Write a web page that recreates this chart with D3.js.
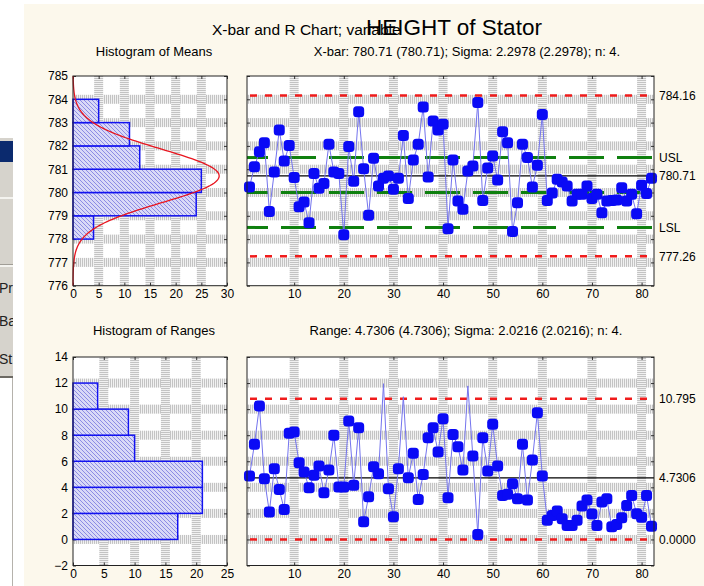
<!DOCTYPE html>
<html>
<head>
<meta charset="utf-8">
<script src="https://cdn.jsdelivr.net/npm/d3@7"></script>
<style>
    body { margin: 0; background: #fff; }
    svg { display: block; font-family: "Liberation Sans", Arial, sans-serif; }
</style>
</head>
<body>
<svg id="chart" width="704" height="586"></svg>
<script>
// sample means (n = 4), samples 1..82
var means = [
    780.24, 781.11, 781.75, 782.14, 779.18, 780.88, 782.68, 781.35, 782.02, 780.64,
    779.39, 779.59, 778.70, 780.82, 780.18, 780.39, 782.07, 780.88, 780.82, 778.19,
    781.97, 780.48, 783.47, 781.02, 779.02, 781.47, 780.28, 780.61, 780.71, 780.14,
    780.61, 782.45, 779.74, 781.39, 782.07, 783.67, 780.67, 783.07, 782.68, 782.93,
    778.44, 781.39, 779.64, 779.28, 780.92, 781.14, 783.86, 779.66, 781.05, 781.57,
    780.54, 782.61, 782.14, 778.33, 779.56, 782.07, 781.50, 780.24, 781.17, 783.35,
    779.66, 779.98, 780.57, 780.45, 780.28, 779.64, 779.92, 779.92, 780.28, 779.74,
    779.92, 779.13, 779.64, 779.66, 779.68, 780.20, 779.64, 779.92, 779.09, 780.31,
    779.96, 780.61
];

// sample ranges
var ranges = [
    4.86, 7.30, 10.24, 4.66, 2.10, 5.43, 3.84, 2.30, 8.14, 8.24,
    5.89, 5.17, 3.97, 4.92, 5.63, 3.58, 5.32, 7.99, 4.02, 4.02,
    9.09, 4.15, 8.58, 1.36, 3.28, 5.58, 5.04, 11.95, 3.89, 1.74,
    5.43, 10.95, 4.74, 6.61, 3.07, 4.99, 7.81, 8.58, 6.71, 9.27,
    3.20, 8.06, 7.12, 5.32, 11.78, 6.40, 0.38, 7.81, 5.25, 8.83,
    5.63, 3.38, 3.46, 4.27, 3.12, 7.30, 3.02, 6.09, 9.73, 4.86,
    1.48, 1.84, 2.18, 1.59, 1.07, 1.07, 1.48, 2.56, 3.02, 1.96,
    1.07, 2.87, 3.12, 0.97, 1.15, 1.66, 2.61, 3.38, 1.97, 1.71,
    3.38, 1.02
];

// histogram bins (lower edge) and counts
var meanBinStart = [778, 779, 780, 781, 782, 783];
var meanBinCount = [4, 24, 25, 13, 11, 5];
var rangeBinStart = [0, 2, 4, 6, 8, 10];
var rangeBinCount = [17, 21, 21, 10, 9, 4];

// control limits & specs
var xbarLimits = [784.16, 780.71, 777.26];
var specLimits = [781.5, 780.0, 778.5];
var xbarLabelVals = [784.16, 781.5, 780.71, 778.5, 777.26];
var xbarLabels = ['784.16', 'USL', '780.71', 'LSL', '777.26'];
var rLimits = [10.795, 4.7306, 0.0];
var rLabels = ['10.795', '4.7306', '0.0000'];
var xbarSigma = 2.2978;
var sampleSize = 4;

// tick values
var meanTicks = [776, 777, 778, 779, 780, 781, 782, 783, 784, 785];
var rangeTicks = [-2, 0, 2, 4, 6, 8, 10, 12, 14];
var histMeanXTicks = [0, 5, 10, 15, 20, 25, 30];
var histRangeXTicks = [0, 5, 10, 15, 20, 25];
var sampleTicks = [10, 20, 30, 40, 50, 60, 70, 80];

var svg = d3.select('#chart');
var defs = svg.append('defs');

// grid band patterns
var hp = defs.append('pattern').attr('id', 'hband').attr('patternUnits', 'userSpaceOnUse')
    .attr('width', 2).attr('height', 2);
hp.append('rect').attr('width', 2).attr('height', 2).attr('fill', '#f1f1f1');
hp.append('rect').attr('width', 1).attr('height', 2).attr('fill', '#c3c3c3');

var vp = defs.append('pattern').attr('id', 'vband').attr('patternUnits', 'userSpaceOnUse')
    .attr('width', 2).attr('height', 2);
vp.append('rect').attr('width', 2).attr('height', 2).attr('fill', '#f1f1f1');
vp.append('rect').attr('width', 2).attr('height', 1).attr('fill', '#c3c3c3');

var hatch = defs.append('pattern').attr('id', 'hatch').attr('patternUnits', 'userSpaceOnUse')
    .attr('width', 4).attr('height', 4);
hatch.append('rect').attr('width', 4).attr('height', 4).attr('fill', '#d9d9f7');
hatch.append('path').attr('d', 'M0,0L4,4M-1,3L1,5M3,-1L5,1')
    .attr('stroke', '#8383e2').attr('stroke-width', 0.9);

defs.append('clipPath').attr('id', 'leftclip')
    .append('rect').attr('x', 0).attr('y', 0).attr('width', 13).attr('height', 586);

// window leftovers on the left edge
var side = svg.append('g').attr('clip-path', 'url(#leftclip)');
side.append('rect').attr('x', 0).attr('y', 138).attr('width', 13).attr('height', 240).attr('fill', '#d6d3cc');
side.append('rect').attr('x', 0).attr('y', 141).attr('width', 13).attr('height', 21).attr('fill', '#0b2a6e');
side.append('rect').attr('x', 0).attr('y', 197).attr('width', 13).attr('height', 2).attr('fill', '#f4f3ef');
side.append('rect').attr('x', 0).attr('y', 264).attr('width', 13).attr('height', 1).attr('fill', '#a09d96');
side.append('rect').attr('x', 0).attr('y', 265).attr('width', 13).attr('height', 2).attr('fill', '#f4f3ef');
side.append('rect').attr('x', 0).attr('y', 376).attr('width', 13).attr('height', 2).attr('fill', '#6d6a64');
side.selectAll('text.side').data([['Pri', 293], ['Ba', 326], ['St', 364]]).enter()
    .append('text').attr('x', -1).attr('y', function (d) { return d[1]; })
    .attr('font-size', 14).attr('fill', '#222').text(function (d) { return d[0]; });
svg.append('line').attr('x1', 12.5).attr('x2', 12.5).attr('y1', 378).attr('y2', 586)
    .attr('stroke', '#b5b2ac');

// cream background
svg.append('rect').attr('x', 24).attr('y', 4).attr('width', 680).attr('height', 582).attr('fill', '#fcf8ec');

// title (the two parts overlap in the original)
svg.append('text').attr('x', 212).attr('y', 35).attr('font-size', 15.5)
    .text('X-bar and R Chart; variable');
svg.append('text').attr('x', 366).attr('y', 35).attr('font-size', 22.5)
    .text('HEIGHT of Stator');

function subTitle(x, y, t) {
    svg.append('text').attr('x', x).attr('y', y).attr('text-anchor', 'middle')
        .attr('font-size', 13).text(t);
}
subTitle(154, 56, 'Histogram of Means');
subTitle(467, 56, 'X-bar: 780.71 (780.71); Sigma: 2.2978 (2.2978); n: 4.');
subTitle(154, 335, 'Histogram of Ranges');
subTitle(466, 335, 'Range: 4.7306 (4.7306); Sigma: 2.0216 (2.0216); n: 4.');

// draws white plot area, striped grid bands and inward ticks
function panel(x, y, xTicks, yTicks, opts) {
    var g = svg.append('g');
    var x0 = x.range()[0], x1 = x.range()[1];
    var y0 = y.range()[1], y1 = y.range()[0];
    g.append('rect').attr('x', x0).attr('y', y0).attr('width', x1 - x0).attr('height', y1 - y0)
        .attr('fill', '#fff');

    var inY = yTicks.filter(function (d) { return y(d) > y0 + 2 && y(d) < y1 - 2; });
    var inX = xTicks.filter(function (d) { return x(d) > x0 + 2 && x(d) < x1 - 2; });

    g.selectAll('rect.hb').data(inY).enter().append('rect')
        .attr('x', x0).attr('y', function (d) { return y(d) - 4.5; })
        .attr('width', x1 - x0).attr('height', 9).attr('fill', 'url(#hband)');
    g.selectAll('rect.vb').data(inX).enter().append('rect')
        .attr('x', function (d) { return x(d) - 4.5; }).attr('y', y0)
        .attr('width', 9).attr('height', y1 - y0).attr('fill', 'url(#vband)');

    var axB = d3.axisBottom(x).tickValues(xTicks).tickSize(-3).tickSizeOuter(0).tickPadding(4);
    if (!opts.xLabels) axB.tickFormat('');
    var axT = d3.axisTop(x).tickValues(xTicks).tickSize(-3).tickSizeOuter(0).tickFormat('');
    var axL = d3.axisLeft(y).tickValues(yTicks).tickSize(-3).tickSizeOuter(0).tickPadding(5);
    if (!opts.yLabels) axL.tickFormat('');
    var axR = d3.axisRight(y).tickValues(yTicks).tickSize(-3).tickSizeOuter(0).tickFormat('');

    var axes = [
        [axB, 'translate(0,' + y1 + ')'],
        [axT, 'translate(0,' + y0 + ')'],
        [axL, 'translate(' + x0 + ',0)'],
        [axR, 'translate(' + x1 + ',0)']
    ];
    axes.forEach(function (a) {
        var ag = svg.append('g').attr('class', 'axis').attr('transform', a[1]).call(a[0]);
        ag.select('.domain').remove();
        ag.selectAll('line').attr('stroke', '#333');
        ag.selectAll('text').attr('font-size', 12).attr('fill', '#000')
            .attr('font-family', '"Liberation Sans", Arial, sans-serif');
    });
    return g;
}

function border(x, y) {
    svg.append('rect')
        .attr('x', x.range()[0]).attr('y', y.range()[1])
        .attr('width', x.range()[1] - x.range()[0]).attr('height', y.range()[0] - y.range()[1])
        .attr('fill', 'none').attr('stroke', '#222').attr('stroke-width', 1);
}

// ---------- scales ----------
var yMean = d3.scaleLinear().domain([776, 785]).range([285.7, 76]);
var yRange = d3.scaleLinear().domain([-2, 14]).range([565.5, 357]);
var xHistMean = d3.scaleLinear().domain([0, 30]).range([73, 227]);
var xHistRange = d3.scaleLinear().domain([0, 25]).range([73, 227]);
var xSample = d3.scaleLinear().domain([0.5, 82.5]).range([247, 654]);

// ---------- histogram of means ----------
panel(xHistMean, yMean, histMeanXTicks, meanTicks, { xLabels: true, yLabels: true });
svg.append('g').selectAll('rect').data(meanBinStart).enter().append('rect')
    .attr('x', xHistMean(0))
    .attr('y', function (d) { return yMean(d + 1); })
    .attr('width', function (d, i) { return xHistMean(meanBinCount[i]) - xHistMean(0); })
    .attr('height', function (d) { return yMean(d) - yMean(d + 1); })
    .attr('fill', 'url(#hatch)').attr('stroke', '#1212f0').attr('stroke-width', 1.5);

var sdMean = xbarSigma / Math.sqrt(sampleSize);
var total = d3.sum(meanBinCount);
var curveY = d3.range(776, 785.001, 0.05);
svg.append('path')
    .datum(curveY)
    .attr('fill', 'none').attr('stroke', '#e8141e').attr('stroke-width', 1.3)
    .attr('d', d3.line()
        .x(function (v) {
            var z = (v - xbarLimits[1]) / sdMean;
            return xHistMean(total * Math.exp(-0.5 * z * z) / (sdMean * Math.sqrt(2 * Math.PI)));
        })
        .y(function (v) { return yMean(v); }));
border(xHistMean, yMean);

// ---------- X-bar chart ----------
panel(xSample, yMean, sampleTicks, meanTicks, { xLabels: true, yLabels: false });
var xg = svg.append('g');
xg.selectAll('line.lim').data([xbarLimits[0], xbarLimits[2]]).enter().append('line')
    .attr('x1', xSample.range()[0]).attr('x2', xSample.range()[1])
    .attr('y1', yMean).attr('y2', yMean)
    .attr('stroke', '#f01c1c').attr('stroke-width', 2.5)
    .attr('stroke-dasharray', '7,8').attr('stroke-dashoffset', 12);
xg.selectAll('line.spec').data(specLimits).enter().append('line')
    .attr('x1', xSample.range()[0]).attr('x2', xSample.range()[1])
    .attr('y1', yMean).attr('y2', yMean)
    .attr('stroke', '#0f800f').attr('stroke-width', 3)
    .attr('stroke-dasharray', '35,13').attr('stroke-dashoffset', 14);
xg.append('line')
    .attr('x1', xSample.range()[0]).attr('x2', xSample.range()[1])
    .attr('y1', yMean(xbarLimits[1])).attr('y2', yMean(xbarLimits[1]))
    .attr('stroke', '#000').attr('stroke-width', 1.2);
border(xSample, yMean);

xg.append('path').datum(means)
    .attr('fill', 'none').attr('stroke', '#7474ee').attr('stroke-width', 1)
    .attr('d', d3.line()
        .x(function (d, i) { return xSample(i + 1); })
        .y(function (d) { return yMean(d); }));
xg.selectAll('rect.pt').data(means).enter().append('rect')
    .attr('x', function (d, i) { return xSample(i + 1) - 5.5; })
    .attr('y', function (d) { return yMean(d) - 5.5; })
    .attr('width', 11).attr('height', 11).attr('rx', 3.5)
    .attr('fill', '#0a0af5');

svg.append('g').selectAll('text').data(xbarLabels).enter().append('text')
    .attr('x', 659).attr('y', function (d, i) { return yMean(xbarLabelVals[i]); })
    .attr('dy', '0.35em').attr('font-size', 12).text(function (d) { return d; });

// ---------- histogram of ranges ----------
panel(xHistRange, yRange, histRangeXTicks, rangeTicks, { xLabels: true, yLabels: true });
svg.append('g').selectAll('rect').data(rangeBinStart).enter().append('rect')
    .attr('x', xHistRange(0))
    .attr('y', function (d) { return yRange(d + 2); })
    .attr('width', function (d, i) { return xHistRange(rangeBinCount[i]) - xHistRange(0); })
    .attr('height', function (d) { return yRange(d) - yRange(d + 2); })
    .attr('fill', 'url(#hatch)').attr('stroke', '#1212f0').attr('stroke-width', 1.5);
border(xHistRange, yRange);

// ---------- R chart ----------
panel(xSample, yRange, sampleTicks, rangeTicks, { xLabels: true, yLabels: false });
var rg = svg.append('g');
rg.selectAll('line.lim').data([rLimits[0], rLimits[2]]).enter().append('line')
    .attr('x1', xSample.range()[0]).attr('x2', xSample.range()[1])
    .attr('y1', yRange).attr('y2', yRange)
    .attr('stroke', '#f01c1c').attr('stroke-width', 2.5)
    .attr('stroke-dasharray', '7,8').attr('stroke-dashoffset', 12);
rg.append('line')
    .attr('x1', xSample.range()[0]).attr('x2', xSample.range()[1])
    .attr('y1', yRange(rLimits[1])).attr('y2', yRange(rLimits[1]))
    .attr('stroke', '#000').attr('stroke-width', 1.2);
border(xSample, yRange);

rg.append('path').datum(ranges)
    .attr('fill', 'none').attr('stroke', '#7474ee').attr('stroke-width', 1)
    .attr('d', d3.line()
        .x(function (d, i) { return xSample(i + 1); })
        .y(function (d) { return yRange(d); }));

// points above the UCL have no marker in the original
var rPoints = ranges.map(function (v, i) { return { n: i + 1, v: v }; })
    .filter(function (p) { return p.v <= rLimits[0]; });
rg.selectAll('rect.pt').data(rPoints).enter().append('rect')
    .attr('x', function (p) { return xSample(p.n) - 5.5; })
    .attr('y', function (p) { return yRange(p.v) - 5.5; })
    .attr('width', 11).attr('height', 11).attr('rx', 3.5)
    .attr('fill', '#0a0af5');

svg.append('g').selectAll('text').data(rLabels).enter().append('text')
    .attr('x', 659).attr('y', function (d, i) { return yRange(rLimits[i]); })
    .attr('dy', '0.35em').attr('font-size', 12).text(function (d) { return d; });
</script>
</body>
</html>
